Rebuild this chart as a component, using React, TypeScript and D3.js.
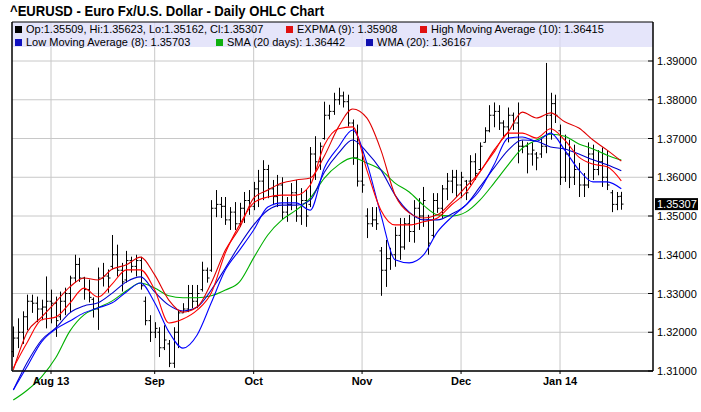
import React from 'react';
import * as d3 from 'd3';

// ---------- DATA ----------
const highs = [
  1.3215, 1.3236, 1.3254, 1.3297, 1.3297, 1.3292, 1.3284, 1.3344, 1.3310, 1.3292,
  1.3305, 1.3315, 1.3346, 1.3400, 1.3392, 1.3343, 1.3336, 1.3290, 1.3367, 1.3379,
  1.3362, 1.3451, 1.3426, 1.3379, 1.3410, 1.3395, 1.3400, 1.3395, 1.3292, 1.3244,
  1.3226, 1.3213, 1.3218, 1.3180, 1.3213, 1.3257, 1.3275, 1.3322, 1.3322, 1.3322,
  1.3382, 1.3367, 1.3541, 1.3567, 1.3549, 1.3549, 1.3523, 1.3536, 1.3534, 1.3562,
  1.3567, 1.3588, 1.3619, 1.3644, 1.3632, 1.3593, 1.3606, 1.3600, 1.3549, 1.3585,
  1.3593, 1.3572, 1.3567, 1.3678, 1.3706, 1.3690, 1.3795, 1.3787, 1.3818, 1.3831,
  1.3821, 1.3813, 1.3749, 1.3736, 1.3670, 1.3520, 1.3523, 1.3523, 1.3420, 1.3438,
  1.3418, 1.3472, 1.3495, 1.3495, 1.3503, 1.3541, 1.3546, 1.3575, 1.3503, 1.3559,
  1.3559, 1.3580, 1.3611, 1.3619, 1.3619, 1.3614, 1.3593, 1.3657, 1.3662, 1.3690,
  1.3729, 1.3786, 1.3793, 1.3786, 1.3747, 1.3780, 1.3767, 1.3793, 1.3695, 1.3690,
  1.3690, 1.3665, 1.3700, 1.3895, 1.3818, 1.3813, 1.3736, 1.3710, 1.3697, 1.3684,
  1.3637, 1.3611, 1.3690, 1.3684, 1.3670, 1.3677, 1.3670, 1.3567, 1.3562, 1.35623,
];
const lows = [
  1.3136, 1.3159, 1.3170, 1.3205, 1.3250, 1.3226, 1.3231, 1.3210, 1.3223, 1.3188,
  1.3231, 1.3244, 1.3252, 1.3328, 1.3330, 1.3284, 1.3277, 1.3238, 1.3206, 1.3318,
  1.3302, 1.3362, 1.3344, 1.3305, 1.3328, 1.3354, 1.3344, 1.3310, 1.3218, 1.3175,
  1.3185, 1.3136, 1.3154, 1.3110, 1.3108, 1.3159, 1.3250, 1.3252, 1.3262, 1.3262,
  1.3305, 1.3328, 1.3356, 1.3497, 1.3495, 1.3477, 1.3464, 1.3464, 1.3472, 1.3482,
  1.3503, 1.3515, 1.3523, 1.3541, 1.3546, 1.3528, 1.3523, 1.3490, 1.3485, 1.3515,
  1.3485, 1.3477, 1.3472, 1.3523, 1.3593, 1.3619, 1.3697, 1.3749, 1.3761, 1.3787,
  1.3780, 1.3731, 1.3632, 1.3576, 1.3560, 1.3443, 1.3472, 1.3464, 1.3294, 1.3317,
  1.3361, 1.3369, 1.3387, 1.3413, 1.3433, 1.3431, 1.3464, 1.3472, 1.3400, 1.3443,
  1.3508, 1.3495, 1.3541, 1.3559, 1.3549, 1.3546, 1.3541, 1.3580, 1.3593, 1.3618,
  1.3690, 1.3716, 1.3729, 1.3722, 1.3700, 1.3690, 1.3722, 1.3636, 1.3662, 1.3610,
  1.3630, 1.3618, 1.3650, 1.3662, 1.3697, 1.3740, 1.3580, 1.3588, 1.3572, 1.3580,
  1.3549, 1.3549, 1.3572, 1.3593, 1.3605, 1.3575, 1.3567, 1.3510, 1.3515, 1.35162,
];
const opens = [
  1.3150, 1.3185, 1.3200, 1.3240, 1.3280, 1.3275, 1.3260, 1.3265, 1.3280, 1.3275,
  1.3240, 1.3280, 1.3300, 1.3340, 1.3375, 1.3340, 1.3310, 1.3285, 1.3260, 1.3340,
  1.3345, 1.3370, 1.3400, 1.3360, 1.3335, 1.3385, 1.3370, 1.3385, 1.3280, 1.3230,
  1.3200, 1.3200, 1.3160, 1.3170, 1.3120, 1.3200, 1.3250, 1.3260, 1.3300, 1.3280,
  1.3310, 1.3360, 1.3360, 1.3520, 1.3530, 1.3525, 1.3490, 1.3510, 1.3480, 1.3520,
  1.3540, 1.3525, 1.3570, 1.3590, 1.3620, 1.3570, 1.3550, 1.3580, 1.3510, 1.3530,
  1.3560, 1.3500, 1.3540, 1.3530, 1.3660, 1.3640, 1.3700, 1.3760, 1.3770, 1.3800,
  1.3810, 1.3795, 1.3740, 1.3650, 1.3590, 1.3500, 1.3480, 1.3490, 1.3410, 1.3360,
  1.3390, 1.3400, 1.3450, 1.3420, 1.3480, 1.3460, 1.3520, 1.3500, 1.3490, 1.3450,
  1.3540, 1.3520, 1.3570, 1.3590, 1.3600, 1.3580, 1.3590, 1.3590, 1.3640, 1.3620,
  1.3690, 1.3720, 1.3760, 1.3770, 1.3740, 1.3730, 1.3760, 1.3740, 1.3680, 1.3680,
  1.3660, 1.3660, 1.3660, 1.3680, 1.3760, 1.3790, 1.3720, 1.3600, 1.3660, 1.3600,
  1.3620, 1.3580, 1.3580, 1.3660, 1.3620, 1.3640, 1.3600, 1.3560, 1.3530, 1.35509,
];
const closes = [
  1.3185, 1.3200, 1.3240, 1.3280, 1.3275, 1.3260, 1.3265, 1.3280, 1.3275, 1.3230,
  1.3280, 1.3300, 1.3340, 1.3375, 1.3340, 1.3310, 1.3290, 1.3260, 1.3340, 1.3345,
  1.3340, 1.3400, 1.3360, 1.3330, 1.3385, 1.3370, 1.3385, 1.3320, 1.3230, 1.3200,
  1.3210, 1.3160, 1.3180, 1.3120, 1.3200, 1.3250, 1.3260, 1.3300, 1.3280, 1.3300,
  1.3360, 1.3340, 1.3520, 1.3530, 1.3525, 1.3490, 1.3510, 1.3480, 1.3520, 1.3540,
  1.3525, 1.3570, 1.3590, 1.3620, 1.3570, 1.3550, 1.3580, 1.3510, 1.3530, 1.3560,
  1.3500, 1.3540, 1.3500, 1.3660, 1.3640, 1.3680, 1.3760, 1.3770, 1.3800, 1.3810,
  1.3795, 1.3740, 1.3650, 1.3590, 1.3580, 1.3480, 1.3490, 1.3480, 1.3360, 1.3390,
  1.3400, 1.3450, 1.3420, 1.3480, 1.3460, 1.3520, 1.3500, 1.3540, 1.3430, 1.3540,
  1.3520, 1.3570, 1.3590, 1.3600, 1.3580, 1.3600, 1.3560, 1.3640, 1.3610, 1.3680,
  1.3720, 1.3760, 1.3770, 1.3740, 1.3730, 1.3760, 1.3740, 1.3680, 1.3680, 1.3660,
  1.3670, 1.3650, 1.3680, 1.3760, 1.3790, 1.3760, 1.3600, 1.3660, 1.3600, 1.3620,
  1.3580, 1.3580, 1.3660, 1.3620, 1.3640, 1.3600, 1.3580, 1.3530, 1.3550, 1.35307,
];

// indicator lines, sampled at these bar indices
const maIndex = [
  0, 3, 6, 9, 12, 15, 18, 21, 24, 27, 30, 33, 36, 39, 42, 45, 48, 51, 54, 57, 60, 63,
  66, 69, 72, 75, 78, 81, 84, 87, 90, 93, 96, 99, 102, 105, 108, 111, 114, 117, 120,
  123, 126, 129,
];
const expma9 = [
  1.3108, 1.3175, 1.3232, 1.3239, 1.3275, 1.3314, 1.3291, 1.3325, 1.3361, 1.3361, 1.3309,
  1.3224, 1.3234, 1.3257, 1.3301, 1.3405, 1.3477, 1.3534, 1.3549, 1.3554, 1.3554, 1.3580,
  1.3683, 1.3725, 1.3730, 1.3619, 1.3515, 1.3477, 1.3477, 1.3485, 1.3495, 1.3529, 1.3560,
  1.3614, 1.3665, 1.3714, 1.3714, 1.3701, 1.3725, 1.3696, 1.3652, 1.3634, 1.3627, 1.35908,
];
const highMA10 = [
  1.3103, 1.3201, 1.3239, 1.3278, 1.3317, 1.3340, 1.3335, 1.3363, 1.3374, 1.3394, 1.3348,
  1.3283, 1.3252, 1.3265, 1.3327, 1.3412, 1.3469, 1.3546, 1.3567, 1.3585, 1.3593, 1.3598,
  1.3655, 1.3730, 1.3776, 1.3753, 1.3670, 1.3554, 1.3508, 1.3495, 1.3503, 1.3536, 1.3575,
  1.3614, 1.3670, 1.3717, 1.3768, 1.3753, 1.3766, 1.3743, 1.3727, 1.3696, 1.3670, 1.36415,
];
const lowMA8 = [
  1.3051, 1.3113, 1.3175, 1.3208, 1.3229, 1.3250, 1.3263, 1.3276, 1.3304, 1.3327, 1.3276,
  1.3201, 1.3159, 1.3193, 1.3276, 1.3361, 1.3412, 1.3464, 1.3523, 1.3534, 1.3534, 1.3515,
  1.3624, 1.3678, 1.3722, 1.3637, 1.3503, 1.3387, 1.3379, 1.3399, 1.3459, 1.3497, 1.3528,
  1.3567, 1.3632, 1.3701, 1.3704, 1.3693, 1.3714, 1.3670, 1.3619, 1.3588, 1.3588, 1.35703,
];
const sma20 = [
  1.3025, 1.3051, 1.3085, 1.3134, 1.3203, 1.3245, 1.3263, 1.3281, 1.3307, 1.3327, 1.3314,
  1.3294, 1.3289, 1.3289, 1.3294, 1.3309, 1.3330, 1.3392, 1.3451, 1.3490, 1.3515, 1.3546,
  1.3598, 1.3632, 1.3650, 1.3637, 1.3619, 1.3585, 1.3562, 1.3528, 1.3503, 1.3500, 1.3510,
  1.3541, 1.3585, 1.3632, 1.3675, 1.3696, 1.3711, 1.3706, 1.3686, 1.3673, 1.3657, 1.36442,
];
const wma20 = [
  1.3051, 1.3123, 1.3180, 1.3211, 1.3250, 1.3268, 1.3276, 1.3301, 1.3330, 1.3343, 1.3304,
  1.3270, 1.3255, 1.3265, 1.3309, 1.3366, 1.3425, 1.3477, 1.3515, 1.3528, 1.3528, 1.3541,
  1.3613, 1.3662, 1.3696, 1.3665, 1.3619, 1.3554, 1.3510, 1.3490, 1.3490, 1.3505, 1.3528,
  1.3575, 1.3624, 1.3670, 1.3696, 1.3693, 1.3678, 1.3673, 1.3660, 1.3645, 1.3632, 1.36167,
];

const monthTickIndex = [8, 30, 51, 74, 95, 116];
const monthTickLabels = ['Aug 13', 'Sep', 'Oct', 'Nov', 'Dec', 'Jan 14'];
const priceTicks = [1.31, 1.32, 1.33, 1.34, 1.35, 1.36, 1.37, 1.38, 1.39];

const titleText = '^EURUSD - Euro Fx/U.S. Dollar - Daily OHLC Chart';

// ---------- COMPONENT ----------
const FONT = "Arial, 'Liberation Sans', Helvetica, sans-serif";

export default function App() {
  const W = 701;
  const H = 412;
  const plotL = 12;
  const plotR = 653;
  const plotT = 22;
  const plotB = 371;
  const n = closes.length;

  const x = d3.scaleLinear().domain([0, n - 1]).range([13.3, 621.3]);
  const y = d3.scaleLinear().domain([1.31, 1.4]).range([plotB, 22.25]);

  const lineGen = (vals: number[]) =>
    d3
      .line<number>()
      .x((_, i) => x(maIndex[i]))
      .y((d) => y(d))
      .curve(d3.curveMonotoneX)(vals) || '';

  const series = [
    { name: 'SMA', vals: sma20, color: '#00b000' },
    { name: 'WMA', vals: wma20, color: '#0000cc' },
    { name: 'LMA', vals: lowMA8, color: '#0000ff' },
    { name: 'HMA', vals: highMA10, color: '#e00000' },
    { name: 'EXP', vals: expma9, color: '#ff0000' },
  ];

  const last = n - 1;
  const f5 = (v: number) => v.toFixed(5);
  const legendRow1 = [
    { color: '#000000', text: `Op:${f5(opens[last])}, Hi:${f5(highs[last])}, Lo:${f5(lows[last])}, Cl:${f5(closes[last])}`, x: 15 },
    { color: '#e01010', text: `EXPMA (9): ${f5(expma9[expma9.length - 1])}`, x: 286 },
    { color: '#e01010', text: `High Moving Average (10): ${f5(highMA10[highMA10.length - 1])}`, x: 420 },
  ];
  const legendRow2 = [
    { color: '#1010c0', text: `Low Moving Average (8): ${f5(lowMA8[lowMA8.length - 1])}`, x: 15 },
    { color: '#10b010', text: `SMA (20 days): ${f5(sma20[sma20.length - 1])}`, x: 216 },
    { color: '#1010b0', text: `WMA (20): ${f5(wma20[wma20.length - 1])}`, x: 366 },
  ];

  const lastClose = closes[last];

  return (
    <svg
      width={W}
      height={H}
      style={{ position: 'absolute', left: 0, top: 0, background: '#fff' }}
      fontFamily={FONT}
    >
      <rect x={0} y={0} width={W} height={H} fill="#fff" />
      {/* title */}
      <text x={10} y={16} fontSize={14} fontWeight="bold" fill="#000" textLength={314} lengthAdjust="spacingAndGlyphs">
        {titleText}
      </text>

      {/* gridlines */}
      {priceTicks.map((p) => (
        <line key={'h' + p} x1={plotL} x2={plotR} y1={y(p)} y2={y(p)} stroke="#c8c8c8" strokeWidth={1} />
      ))}
      {monthTickIndex.map((i) => (
        <line key={'v' + i} x1={x(i)} x2={x(i)} y1={plotT} y2={plotB} stroke="#c8c8c8" strokeWidth={1} />
      ))}

      {/* legend box */}
      <rect x={plotL} y={plotT} width={plotR - plotL} height={25} fill="#dcdcf8" fillOpacity={0.75} />
      {[legendRow1, legendRow2].map((row, r) =>
        row.map((it, k) => (
          <g key={`lg${r}-${k}`}>
            <rect x={it.x} y={plotT + 4 + r * 13} width={7} height={7} fill={it.color} />
            <text x={it.x + 11} y={plotT + 11 + r * 13} fontSize={11} fill="#000">
              {it.text}
            </text>
          </g>
        ))
      )}

      {/* OHLC bars */}
      {closes.map((c, i) => {
        const xi = Math.round(x(i)) + 0.5;
        return (
          <g key={'b' + i} stroke="#000" strokeWidth={1}>
            <line x1={xi} x2={xi} y1={y(highs[i])} y2={y(lows[i])} />
            <line x1={xi - 2} x2={xi} y1={y(opens[i])} y2={y(opens[i])} />
            <line x1={xi} x2={xi + 2} y1={y(c)} y2={y(c)} />
          </g>
        );
      })}

      {/* indicator lines */}
      {series.map((s) => (
        <path key={s.name} d={lineGen(s.vals)} fill="none" stroke={s.color} strokeWidth={1.1} />
      ))}

      {/* frame */}
      <line x1={plotL} x2={plotL} y1={plotT} y2={plotB} stroke="#000" strokeWidth={1.5} />
      <line x1={plotR} x2={plotR} y1={plotT} y2={plotB} stroke="#000" strokeWidth={1.5} />
      <line x1={plotL} x2={plotR} y1={plotB} y2={plotB} stroke="#000" strokeWidth={1.5} />
      <line x1={plotL} x2={plotR} y1={plotT} y2={plotT} stroke="#000" strokeWidth={1} />

      {/* right axis */}
      {priceTicks.map((p) => (
        <g key={'t' + p}>
          <line x1={plotR - 5} x2={plotR} y1={y(p)} y2={y(p)} stroke="#000" />
          <text x={plotR + 4} y={y(p) + 4} fontSize={11} fill="#000">
            {p.toFixed(5)}
          </text>
        </g>
      ))}
      <rect x={plotR + 2} y={y(lastClose) - 6} width={43} height={12} fill="#000" />
      <text x={plotR + 4} y={y(lastClose) + 4} fontSize={11} fill="#fff">
        {lastClose.toFixed(5)}
      </text>

      {/* bottom axis */}
      {monthTickIndex.map((i, k) => (
        <g key={'m' + i}>
          <line x1={x(i)} x2={x(i)} y1={plotB} y2={plotB + 3} stroke="#000" />
          <text x={x(i)} y={plotB + 14} fontSize={11} fontWeight="bold" textAnchor="middle" fill="#000">
            {monthTickLabels[k]}
          </text>
        </g>
      ))}
    </svg>
  );
}
